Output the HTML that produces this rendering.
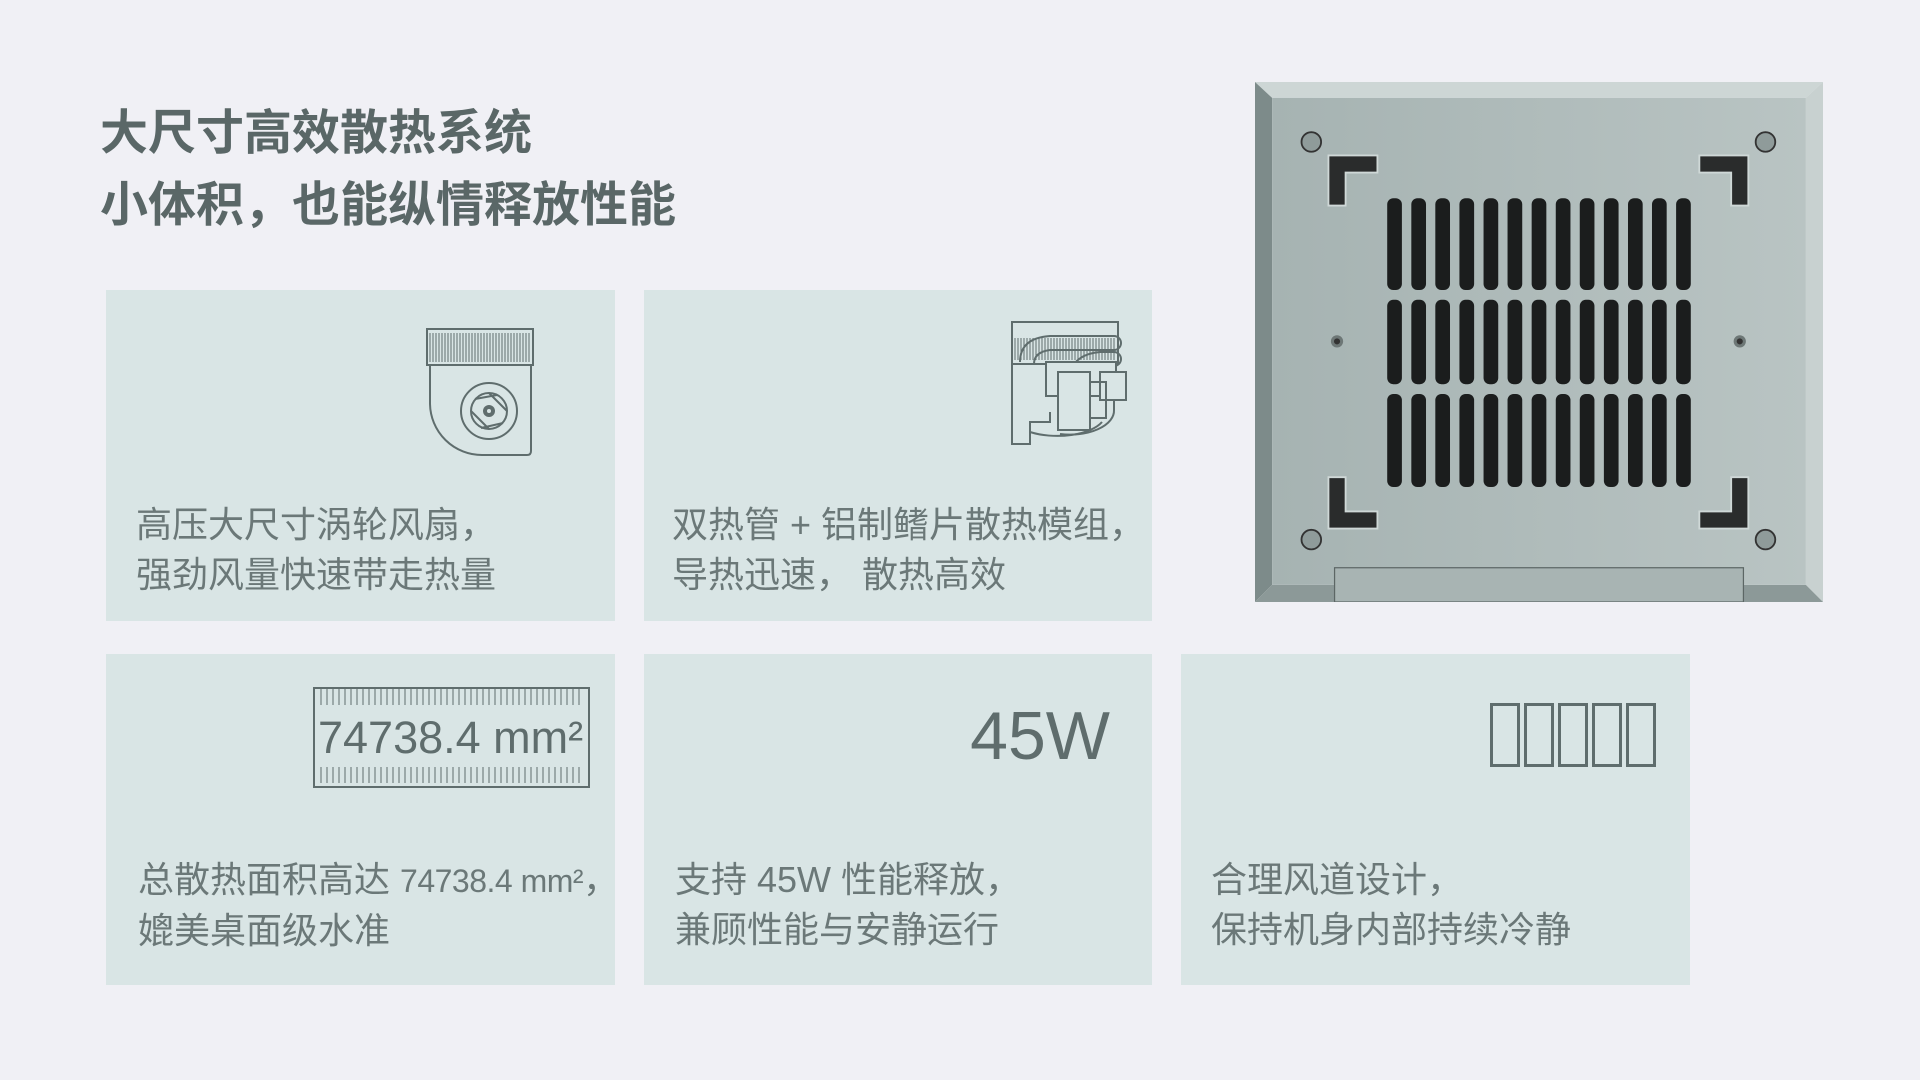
<!DOCTYPE html>
<html><head><meta charset="utf-8"><style>
body{margin:0;width:1920px;height:1080px;background:#f0f0f5;position:relative;overflow:hidden;font-family:"Liberation Sans","Noto Sans CJK SC",sans-serif}
.t{position:absolute;left:100px;font-size:48px;font-weight:bold;color:#5a6767;line-height:60px;white-space:nowrap}
.card{position:absolute;background:#d9e5e5}
.d{position:absolute;font-size:36px;line-height:50px;color:#6b7878;white-space:nowrap}
.box{position:absolute;border:3px solid #5f6d6d;box-sizing:border-box}
</style></head><body>
<div class="t" style="top:104px">大尺寸高效散热系统</div>
<div class="t" style="top:176px">小体积，也能纵情释放性能</div>

<div class="card" style="left:106px;top:290px;width:509px;height:331px"></div>
<div class="card" style="left:644px;top:290px;width:508px;height:331px"></div>
<div class="card" style="left:106px;top:654px;width:509px;height:331px"></div>
<div class="card" style="left:644px;top:654px;width:508px;height:331px"></div>
<div class="card" style="left:1181px;top:654px;width:509px;height:331px"></div>

<div class="d" style="left:136px;top:500px">高压大尺寸涡轮风扇，<br>强劲风量快速带走热量</div>
<div class="d" style="left:672px;top:500px">双热管 + 铝制鳍片散热模组，<br>导热迅速， 散热高效</div>
<div class="d" style="left:138px;top:855px">总散热面积高达 <span style="font-size:32px;letter-spacing:-0.5px">74738.4 mm²</span>，<br>媲美桌面级水准</div>
<div class="d" style="left:675px;top:855px">支持 45W 性能释放，<br>兼顾性能与安静运行</div>
<div class="d" style="left:1211px;top:855px">合理风道设计，<br>保持机身内部持续冷静</div>

<svg style="position:absolute;left:425px;top:327px" width="112" height="132" viewBox="-2 -2 112 132">
<g fill="none" stroke="#5f6d6d" stroke-width="2">
<rect x="0" y="0" width="106" height="36"/>
<path d="M3 36 V75 A52 52 0 0 0 55 126 H100 Q104 126 104 122 V36"/>
<circle cx="62" cy="82" r="28"/><circle cx="62" cy="82" r="18"/>
<path d="M62 64 L80 82 M44 82 L62 100 M48 70 L70 66 M76 94 L54 99"/>
</g>
<circle cx="62" cy="82" r="6" fill="#5f6d6d"/><circle cx="62" cy="82" r="2" fill="#d9e5e5"/>
<g stroke="#5f6d6d" stroke-width="1">
<path d="M3 4V33M6 4V33M9 4V33M12 4V33M15 4V33M18 4V33M21 4V33M24 4V33M27 4V33M30 4V33M33 4V33M36 4V33M39 4V33M42 4V33M45 4V33M48 4V33M51 4V33M54 4V33M57 4V33M60 4V33M63 4V33M66 4V33M69 4V33M72 4V33M75 4V33M78 4V33M81 4V33M84 4V33M87 4V33M90 4V33M93 4V33M96 4V33M99 4V33M102 4V33"/>
</g></svg>

<svg style="position:absolute;left:1008px;top:320px" width="122" height="130" viewBox="-2 -2 122 130">
<g fill="none" stroke="#5f6d6d" stroke-width="2">
<rect x="2" y="0" width="106" height="42"/>
<path d="M2 42 V122 H20 V100 H40 V90"/>
<path d="M20 110 A48 22 0 0 0 92 100"/>
<path d="M10 40 Q10 16 40 14 H104 A7 7 0 0 1 104 28 H40 Q24 30 24 42"/>
<path d="M60 50 Q66 32 90 30 H104 A7 7 0 0 1 104 44 H90 Q76 46 74 52"/>
<rect x="36" y="40" width="70" height="34" fill="#d9e5e5"/>
<rect x="90" y="50" width="26" height="28" fill="#d9e5e5"/>
<rect x="48" y="50" width="32" height="58" fill="#d9e5e5"/>
<path d="M80 60 H96 V96 H80"/>
<path d="M50 112 A44 24 0 0 0 104 88 V78"/>
</g>
<g stroke="#5f6d6d" stroke-width="1"><path d="M5 4V38M8 4V38M11 4V38M14 4V38M17 4V38M20 4V38M23 4V38M26 4V38M29 4V38M32 4V38M35 4V38M38 4V38M41 4V38M44 4V38M47 4V38M50 4V38M53 4V38M56 4V38M59 4V38M62 4V38M65 4V38M68 4V38M71 4V38M74 4V38M77 4V38M80 4V38M83 4V38M86 4V38M89 4V38M92 4V38M95 4V38M98 4V38M101 4V38M104 4V38" stroke-dasharray="0 12 40"/></g>
</svg>

<svg style="position:absolute;left:313px;top:687px" width="277" height="101" viewBox="0 0 277 101">
<rect x="1" y="1" width="275" height="99" fill="none" stroke="#5f6d6d" stroke-width="2"/>
<g stroke="#5f6d6d" stroke-width="1">
<path id="tk" d="M8 2V18M14 2V18M20 2V18M26 2V18M32 2V18M38 2V18M44 2V18M50 2V18M56 2V18M62 2V18M68 2V18M74 2V18M80 2V18M86 2V18M92 2V18M98 2V18M104 2V18M110 2V18M116 2V18M122 2V18M128 2V18M134 2V18M140 2V18M146 2V18M152 2V18M158 2V18M164 2V18M170 2V18M176 2V18M182 2V18M188 2V18M194 2V18M200 2V18M206 2V18M212 2V18M218 2V18M224 2V18M230 2V18M236 2V18M242 2V18M248 2V18M254 2V18M260 2V18M266 2V18"/>
<use href="#tk" y="78"/>
</g>
<text x="5" y="66" font-size="45" fill="#5f6d6d" font-family="Liberation Sans, sans-serif">74738.4 mm²</text>
</svg>

<div style="position:absolute;left:955px;top:698px;width:155px;text-align:right;font-size:68px;line-height:76px;color:#5f6d6d">45W</div>

<div class="box" style="left:1490px;top:703px;width:30px;height:64px"></div>
<div class="box" style="left:1524px;top:703px;width:30px;height:64px"></div>
<div class="box" style="left:1558px;top:703px;width:30px;height:64px"></div>
<div class="box" style="left:1592px;top:703px;width:30px;height:64px"></div>
<div class="box" style="left:1626px;top:703px;width:30px;height:64px"></div>

<svg style="position:absolute;left:1255px;top:82px" width="568" height="520" viewBox="1025 67 464 425" preserveAspectRatio="none">
<defs><linearGradient id="fg" x1="0" x2="1" y1="0" y2="0"><stop offset="0" stop-color="#a6b3b2"/><stop offset="1" stop-color="#b9c4c3"/></linearGradient></defs>
<polygon points="1025,67 1489,67 1475,80 1039,80" fill="#cdd6d5"/>
<polygon points="1025,67 1039,80 1039,478 1025,492" fill="#7d8b8a"/>
<polygon points="1489,67 1489,492 1475,478 1475,80" fill="#c8d1d0"/>
<polygon points="1025,492 1039,478 1475,478 1489,492" fill="#8c9998"/>
<rect x="1039" y="80" width="436" height="398" fill="url(#fg)"/>
<rect x="1090" y="464" width="334" height="28" fill="#a8b4b3" stroke="#5c6665" stroke-width="1"/>
<g fill="#1b1d1d">
<rect x="1133" y="162" width="12" height="75" rx="5"/><rect x="1152.7" y="162" width="12" height="75" rx="5"/><rect x="1172.3" y="162" width="12" height="75" rx="5"/><rect x="1192" y="162" width="12" height="75" rx="5"/><rect x="1211.7" y="162" width="12" height="75" rx="5"/><rect x="1231.3" y="162" width="12" height="75" rx="5"/><rect x="1251" y="162" width="12" height="75" rx="5"/><rect x="1270.7" y="162" width="12" height="75" rx="5"/><rect x="1290.3" y="162" width="12" height="75" rx="5"/><rect x="1310" y="162" width="12" height="75" rx="5"/><rect x="1329.7" y="162" width="12" height="75" rx="5"/><rect x="1349.3" y="162" width="12" height="75" rx="5"/><rect x="1369" y="162" width="12" height="75" rx="5"/>
<rect x="1133" y="245" width="12" height="69" rx="5"/><rect x="1152.7" y="245" width="12" height="69" rx="5"/><rect x="1172.3" y="245" width="12" height="69" rx="5"/><rect x="1192" y="245" width="12" height="69" rx="5"/><rect x="1211.7" y="245" width="12" height="69" rx="5"/><rect x="1231.3" y="245" width="12" height="69" rx="5"/><rect x="1251" y="245" width="12" height="69" rx="5"/><rect x="1270.7" y="245" width="12" height="69" rx="5"/><rect x="1290.3" y="245" width="12" height="69" rx="5"/><rect x="1310" y="245" width="12" height="69" rx="5"/><rect x="1329.7" y="245" width="12" height="69" rx="5"/><rect x="1349.3" y="245" width="12" height="69" rx="5"/><rect x="1369" y="245" width="12" height="69" rx="5"/>
<rect x="1133" y="322" width="12" height="76" rx="5"/><rect x="1152.7" y="322" width="12" height="76" rx="5"/><rect x="1172.3" y="322" width="12" height="76" rx="5"/><rect x="1192" y="322" width="12" height="76" rx="5"/><rect x="1211.7" y="322" width="12" height="76" rx="5"/><rect x="1231.3" y="322" width="12" height="76" rx="5"/><rect x="1251" y="322" width="12" height="76" rx="5"/><rect x="1270.7" y="322" width="12" height="76" rx="5"/><rect x="1290.3" y="322" width="12" height="76" rx="5"/><rect x="1310" y="322" width="12" height="76" rx="5"/><rect x="1329.7" y="322" width="12" height="76" rx="5"/><rect x="1349.3" y="322" width="12" height="76" rx="5"/><rect x="1369" y="322" width="12" height="76" rx="5"/>
</g>
<g fill="#2a2c2c" stroke="#cfd8d7" stroke-width="1.5">
<path d="M1085 127 H1125 V141 H1099 V168 H1085 Z"/>
<path d="M1428 127 H1388 V141 H1414 V168 H1428 Z"/>
<path d="M1085 432 H1125 V418 H1099 V390 H1085 Z"/>
<path d="M1428 432 H1388 V418 H1414 V390 H1428 Z"/>
</g>
<g fill="#8f9b9a" stroke="#333" stroke-width="1.5">
<circle cx="1071" cy="116" r="8"/><circle cx="1442" cy="116" r="8"/><circle cx="1071" cy="441" r="8"/><circle cx="1442" cy="441" r="8"/>
</g>
<g fill="#6d7776"><circle cx="1092" cy="279" r="5"/><circle cx="1421" cy="279" r="5"/></g>
<g fill="#333"><circle cx="1092" cy="279" r="2.5"/><circle cx="1421" cy="279" r="2.5"/></g>
</svg>
</body></html>
